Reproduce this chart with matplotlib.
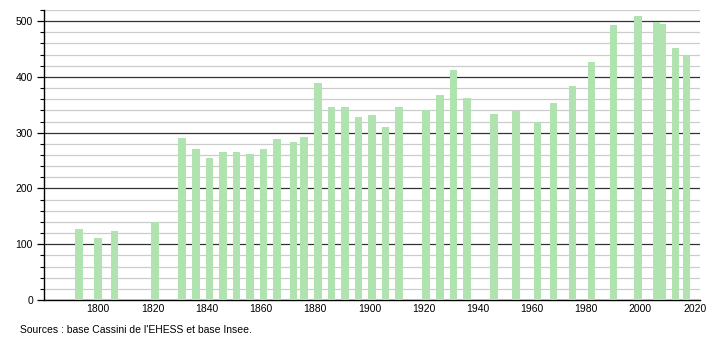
import numpy as np
import matplotlib.pyplot as plt
from matplotlib.ticker import MultipleLocator

plt.rcParams['font.family'] = ['Liberation Sans', 'DejaVu Sans']
plt.rcParams['font.size'] = 7.5

# Census years and population
years = [1793, 1800, 1806, 1821, 1831, 1836, 1841, 1846, 1851, 1856, 1861,
         1866, 1872, 1876, 1881, 1886, 1891, 1896, 1901, 1906, 1911, 1921,
         1926, 1931, 1936, 1946, 1954, 1962, 1968, 1975, 1982, 1990, 1999,
         2006, 2008, 2013, 2017]
population = [128, 112, 124, 140, 290, 270, 254, 266, 266, 262, 270,
              288, 284, 293, 389, 346, 346, 329, 331, 311, 346, 340,
              367, 412, 362, 333, 339, 320, 353, 383, 427, 493, 510,
              498, 495, 451, 437]
xticks = [1800, 1820, 1840, 1860, 1880, 1900, 1920, 1940, 1960, 1980, 2000, 2020]

fig = plt.figure(figsize=(7.1, 3.4), dpi=100)
ax = fig.add_axes([0.062, 0.1176, 0.924, 0.853])

ax.bar(years, population, width=2.8, color='#b0e3b0', zorder=3)

ax.set_xlim(1780, 2022)
ax.set_ylim(0, 520)
ax.yaxis.set_major_locator(MultipleLocator(100))
ax.yaxis.set_minor_locator(MultipleLocator(20))
ax.set_xticks(xticks)

ax.grid(which='minor', axis='y', color='#cccccc', linewidth=0.9, zorder=1)
ax.grid(which='major', axis='y', color='#333333', linewidth=0.9, zorder=2)

for s in ['top', 'right']:
    ax.spines[s].set_visible(False)
ax.spines['left'].set_linewidth(1.0)
ax.spines['bottom'].set_linewidth(1.0)
ax.tick_params(axis='y', which='major', length=5, width=0.9, pad=3)
ax.tick_params(axis='y', which='minor', length=3, width=0.8)
ax.tick_params(axis='x', length=0, pad=3)

fig.text(0.028, 0.022, "Sources : base Cassini de l'EHESS et base Insee.", fontsize=7.5)

fig.savefig('out.png', dpi=100)
